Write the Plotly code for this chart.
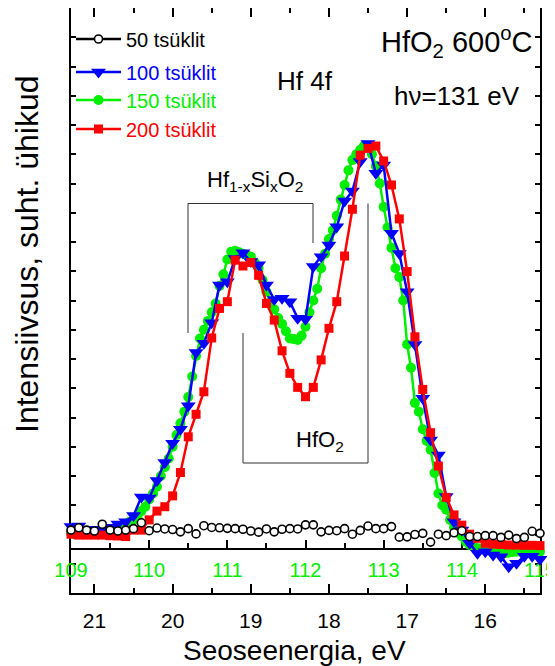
import plotly.graph_objects as go

# ---------------- data (kinetic energy, eV ; intensity, arb. units) ----------------
ke_50 = [round(109.0 + 0.1 * k, 2) for k in range(61)]
i_50 = [2.15, 2.23, 2.15, 2.12, 2.35, 2.15, 2.12, 2.15, 2.20, 2.40,
        2.13, 2.22, 2.19, 2.17, 2.09, 2.20, 2.02, 2.30, 2.24, 2.23,
        2.21, 2.20, 2.18, 2.12, 2.08, 2.19, 2.09, 2.18, 2.20, 2.19,
        2.33, 2.33, 2.09, 2.14, 2.13, 2.20, 2.01, 2.14, 2.29, 2.20,
        2.20, 2.27, 1.91, 1.92, 2.00, 2.04, 1.74, 2.01, 1.96, 2.06,
        2.13, 1.93, 1.93, 1.96, 1.96, 1.90, 1.98, 1.86, 1.90, 2.11,
        2.04]

ke_100 = [round(108.9 + 0.1 * k, 2) for k in range(63)]
i_100 = [2.10, 2.27, 2.29, 2.05, 2.18, 2.15, 2.25, 2.36, 2.44, 2.65,
         3.28, 3.25, 3.85, 4.46, 5.12, 5.60, 6.40, 8.22, 8.54, 9.24,
         10.53, 10.64, 11.44, 11.63, 11.33, 11.22, 10.53, 10.03, 10.08, 9.96,
         9.39, 9.36, 11.16, 11.50, 11.90, 12.52, 13.40, 13.74, 14.75, 15.37,
         14.35, 14.63, 12.30, 11.61, 10.30, 8.50, 6.66, 5.23, 4.72, 3.30,
         2.44, 2.15, 1.70, 1.36, 1.41, 1.30, 1.24, 0.90, 1.02, 1.26,
         1.26, 1.15, 1.19]

ke_150 = [round(108.9 + 0.05 * k, 2) for k in range(125)]
i_150 = [2.0, 2.02, 2.04, 2.0, 2.05, 2.08, 2.05, 2.1, 2.08, 2.1, 2.12, 2.1, 2.15, 2.15, 2.15, 2.2, 2.35, 2.44, 2.5, 2.6,
         2.8, 2.95, 3.2, 3.4, 3.63, 4.0, 4.3, 4.6, 5.0, 5.4, 5.8, 6.2, 6.7, 7.4, 8.1, 8.7, 9.0, 9.3, 9.6, 9.9,
         10.5, 10.9, 11.4, 11.67, 11.7, 11.65, 11.6, 11.55, 11.5, 11.3, 11.1, 10.7, 10.3, 9.95, 9.7, 9.4, 9.2, 8.95, 8.7, 8.68,
         8.65, 8.8, 9.1, 9.6, 10.0, 10.4, 11.1, 11.6, 12.1, 12.4, 12.9, 13.45, 13.95, 14.45, 14.8, 15.0, 15.15, 15.3, 15.25, 15.0,
         14.6, 14.0, 13.2, 12.5, 11.8, 11.1, 10.8, 10.0, 8.5, 7.7, 6.5, 6.2, 5.6, 5.2, 4.9, 4.1, 3.4, 3.0, 2.85, 2.5,
         2.25, 2.05, 1.93, 1.75, 1.64, 1.58, 1.53, 1.52, 1.5, 1.49, 1.49, 1.45, 1.42, 1.36, 1.38, 1.4, 1.41, 1.42, 1.44, 1.45,
         1.47, 1.45, 1.41, 1.41, 1.4]

ke_200 = [round(108.9 + 0.1 * k, 2) for k in range(63)]
i_200 = [2.04, 2.01, 1.98, 1.98, 1.98, 1.98, 1.96, 1.95, 1.93, 2.15,
         2.15, 2.50, 2.80, 2.95, 3.32, 4.12, 5.34, 6.11, 6.88, 8.72,
         9.73, 9.96, 11.38, 11.18, 11.30, 10.86, 9.90, 9.33, 8.28, 7.51,
         7.03, 6.71, 7.03, 7.97, 9.05, 9.96, 11.52, 13.12, 14.97, 15.20,
         15.28, 14.77, 13.95, 12.79, 10.99, 8.76, 6.96, 5.48, 4.34, 3.27,
         2.67, 2.32, 2.01, 1.87, 1.70, 1.67, 1.66, 1.64, 1.64, 1.63,
         1.63, 1.62, 1.62]

series_names = ["50 tsüklit", "100 tsüklit", "150 tsüklit", "200 tsüklit"]
ke_range = [109, 115]
be_range = [21.3, 15.3]

# ---------------- styling ----------------
FONT = "Liberation Sans, Arial, sans-serif"
BLACK, BLUE, GREEN, RED = "#000000", "#0000ff", "#00ee00", "#ff0000"
OFF = 8                      # page body margin of the html
W, H = 555 - OFF, 666 - OFF
L, R, T, B = 71, 540, 8, 593  # plot frame in window pixels


def px(x):
    return (x - L) / (R - L)


def py(y):
    return (B - y) / (B - T)


fig = go.Figure()
# keeps the binding-energy subplot alive
fig.add_trace(go.Scatter(x=[], y=[], xaxis="x", yaxis="y", showlegend=False, hoverinfo="skip"))

fig.add_trace(go.Scatter(x=ke_150, y=i_150, xaxis="x2", yaxis="y", mode="lines+markers",
                         line=dict(color=GREEN, width=2.5), cliponaxis=False,
                         marker=dict(symbol="circle", size=10, color=GREEN), showlegend=False))
fig.add_trace(go.Scatter(x=ke_100, y=i_100, xaxis="x2", yaxis="y", mode="lines+markers",
                         line=dict(color=BLUE, width=2.5), cliponaxis=False,
                         marker=dict(symbol="triangle-down", size=13, color=BLUE), showlegend=False))
fig.add_trace(go.Scatter(x=ke_200, y=i_200, xaxis="x2", yaxis="y", mode="lines+markers",
                         line=dict(color=RED, width=2.5), cliponaxis=False,
                         marker=dict(symbol="square", size=9, color=RED), showlegend=False))
fig.add_trace(go.Scatter(x=ke_50, y=i_50, xaxis="x2", yaxis="y", mode="markers", cliponaxis=False,
                         marker=dict(symbol="circle", size=8, color="white",
                                     line=dict(color=BLACK, width=1.6)), showlegend=False))

# legend proxies
proxies = [
    (series_names[0], BLACK, dict(symbol="circle", size=8, color="white", line=dict(color=BLACK, width=1.6)), "legend", 39),
    (series_names[1], BLUE, dict(symbol="triangle-down", size=13, color=BLUE), "legend2", 72),
    (series_names[2], GREEN, dict(symbol="circle", size=10, color=GREEN), "legend3", 100),
    (series_names[3], RED, dict(symbol="square", size=9, color=RED), "legend4", 129),
]
legends = {}
for name, col, mk, lg, yrow in proxies:
    fig.add_trace(go.Scatter(x=[None], y=[None], xaxis="x2", yaxis="y", mode="lines+markers",
                             name=f"<span style='color:{col}'>{name}</span>",
                             line=dict(color=col, width=2.5), marker=mk, legend=lg))
    legends[lg] = dict(x=0.0, y=py(yrow), xanchor="left", yanchor="middle",
                       bgcolor="rgba(0,0,0,0)", borderwidth=0, itemwidth=45,
                       font=dict(family=FONT, size=20, color=col))

axis_common = dict(showgrid=False, zeroline=False, showline=True, linewidth=2, linecolor="black",
                   ticks="inside", tickcolor="black", tickwidth=1.5, layer="below traces")

fig.update_layout(
    width=W, height=H,
    margin=dict(l=L - OFF, r=W - (R - OFF), t=T - OFF, b=H - (B - OFF), autoexpand=False),
    paper_bgcolor="white", plot_bgcolor="white",
    font=dict(family=FONT, color="black"),
    xaxis=dict(range=be_range, tick0=0, dtick=1, ticklen=9, mirror="ticks", ticklabelstandoff=8,
               tickfont=dict(family=FONT, size=21, color="black"),
               minor=dict(tick0=0, dtick=0.5, ticks="inside", ticklen=5, tickwidth=1.5, tickcolor="black"),
               **axis_common),
    xaxis2=dict(range=ke_range, overlaying="x", anchor="free", position=py(549), side="bottom",
                tick0=0, dtick=1, ticklen=8, ticklabelstandoff=3, ticklabeloverflow="allow",
                tickfont=dict(family=FONT, size=20, color=GREEN),
                minor=dict(tick0=0, dtick=0.5, ticks="inside", ticklen=5, tickwidth=1.5, tickcolor="black"),
                **axis_common),
    yaxis=dict(range=[0, 20], tick0=0, dtick=1, ticklen=5, mirror="ticks", showticklabels=False,
               **axis_common),
    showlegend=True,
    **legends,
)

ann = dict(showarrow=False, xref="paper", yref="paper", xanchor="center", yanchor="middle")
fig.add_annotation(text="Intensiivsus, suht. ühikud", textangle=-90, x=px(27), y=py(254),
                   font=dict(family=FONT, size=32, color="black"), **ann)
fig.add_annotation(text="Seoseenergia, eV", x=px(294), y=py(650),
                   font=dict(family=FONT, size=28, color="black"), **ann)
fig.add_annotation(text="HfO<sub>2</sub> 600<sup>o</sup>C", x=px(457), y=py(42),
                   font=dict(family=FONT, size=29, color="black"), **ann)
fig.add_annotation(text="Hf 4f", x=px(305), y=py(81),
                   font=dict(family=FONT, size=26, color="black"), **ann)
fig.add_annotation(text="hν=131 eV", x=px(457), y=py(96),
                   font=dict(family=FONT, size=26, color="black"), **ann)
fig.add_annotation(text="Hf<sub>1-x</sub>Si<sub>x</sub>O<sub>2</sub>", x=px(255), y=py(181),
                   font=dict(family=FONT, size=22, color="black"), **ann)
fig.add_annotation(text="HfO<sub>2</sub>", x=px(320), y=py(441),
                   font=dict(family=FONT, size=22, color="black"), **ann)

# composition brackets
br = dict(type="path", xref="paper", yref="paper", line=dict(color="#333333", width=1))
fig.add_shape(path=f"M {px(188)} {py(333)} L {px(188)} {py(203.5)} L {px(313)} {py(203.5)} L {px(313)} {py(243)}", **br)
fig.add_shape(path=f"M {px(243)} {py(333)} L {px(243)} {py(463)} L {px(368)} {py(463)} L {px(368)} {py(203.5)}", **br)

fig.write_html("out.html")
